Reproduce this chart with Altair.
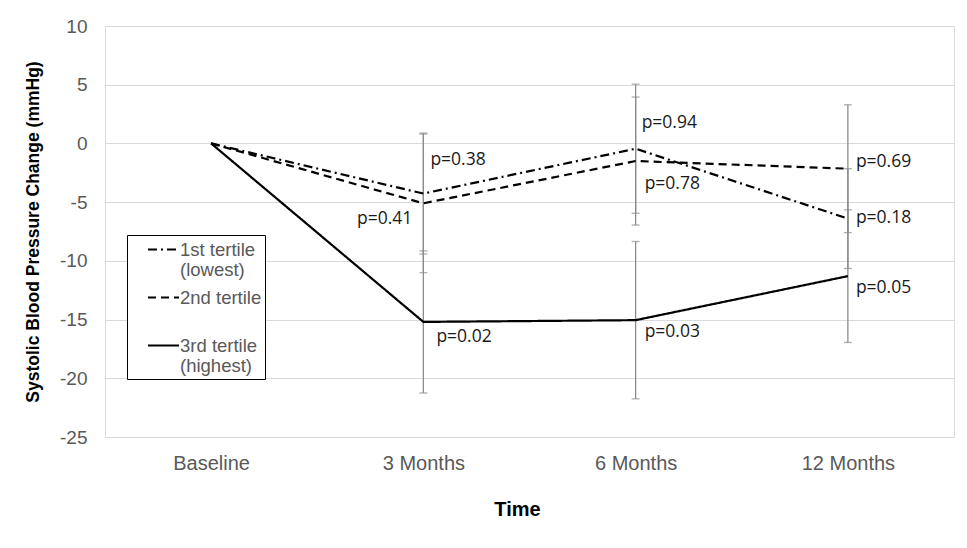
import altair as alt
import pandas as pd

# ---- data ----
times = ["Baseline", "3 Months", "6 Months", "12 Months"]
series = ["1st tertile (lowest)", "2nd tertile", "3rd tertile (highest)"]

t1_mean = [0.0, -4.27, -0.45, -6.4]
t2_mean = [0.0, -5.1, -1.5, -2.15]
t3_mean = [0.0, -15.2, -15.05, -11.3]

t1_err = [None, 5.15, 5.5, 4.25]
t2_err = [None, 5.9, 5.45, 5.44]
t3_err = [None, 6.05, 6.7, 5.65]

t1_p = [None, "p=0.38", "p=0.94", "p=0.18"]
t2_p = [None, "p=0.41", "p=0.78", "p=0.69"]
t3_p = [None, "p=0.02", "p=0.03", "p=0.05"]

# where each p-value annotation sits (data units on the y axis)
t1_py = [None, -1.42, 1.77, -6.33]
t2_py = [None, -6.47, -3.49, -1.56]
t3_py = [None, -16.45, -16.05, -12.3]

# horizontal nudges for annotations (pixels); negative = right-aligned
t1_pdx = [None, 7, 6, 8]
t2_pdx = [None, -11, 9, 8]
t3_pdx = [None, 13, 9, 8]

means = [t1_mean, t2_mean, t3_mean]
errs = [t1_err, t2_err, t3_err]
pvals = [t1_p, t2_p, t3_p]
pys = [t1_py, t2_py, t3_py]
pdxs = [t1_pdx, t2_pdx, t3_pdx]

rows, erows, prows = [], [], []
for s, m, e, p, py, pdx in zip(series, means, errs, pvals, pys, pdxs):
    for i, t in enumerate(times):
        rows.append({"time": t, "series": s, "value": m[i]})
        if e[i] is not None:
            erows.append({"time": t, "series": s, "lo": m[i] - e[i], "hi": m[i] + e[i]})
        if p[i] is not None:
            prows.append({"time": t, "series": s, "label": p[i], "ly": py[i], "dx": pdx[i]})

df = pd.DataFrame(rows)
edf = pd.DataFrame(erows)
pdf = pd.DataFrame(prows)

xscale = alt.Scale(type="point", domain=times, padding=0.5)
yscale = alt.Scale(domain=[-25, 10], nice=False)

xaxis = alt.Axis(
    title="Time", labelAngle=0, ticks=False, domain=False, grid=False,
    labelFont="Liberation Sans", labelFontSize=20, labelColor="#595959", labelPadding=16,
    titleFont="Liberation Sans", titleFontSize=20, titleFontWeight="bold", titleColor="#000000",
    titleX=412, titleY=78, titleBaseline="alphabetic", titleAnchor="middle",
)
yaxis = alt.Axis(
    title="Systolic Blood Pressure Change (mmHg)", values=[10, 5, 0, -5, -10, -15, -20, -25],
    labelExpr="datum.value + ''", ticks=False, domain=False, grid=True,
    gridColor="#d9d9d9", gridWidth=1.2,
    labelFont="Liberation Sans", labelFontSize=19, labelColor="#595959", labelPadding=18,
    titleFont="Liberation Sans", titleFontSize=17.5, titleFontWeight="bold", titleColor="#000000",
    titleX=-67, titleY=205.5, titleAngle=-90, titleBaseline="alphabetic", titleAnchor="middle",
)

errbars = alt.Chart(edf).mark_rule(color="#8c8c8c", strokeWidth=1.3).encode(
    x=alt.X("time:N", scale=xscale, axis=xaxis, sort=times),
    y=alt.Y("lo:Q", scale=yscale, axis=yaxis),
    y2="hi:Q",
)
cap_lo = alt.Chart(edf).mark_tick(color="#8c8c8c", thickness=1.3, size=8).encode(
    x=alt.X("time:N", scale=xscale, sort=times), y=alt.Y("lo:Q", scale=yscale)
)
cap_hi = alt.Chart(edf).mark_tick(color="#8c8c8c", thickness=1.3, size=8).encode(
    x=alt.X("time:N", scale=xscale, sort=times), y=alt.Y("hi:Q", scale=yscale)
)

label_expr = (
    "datum.label == '1st tertile (lowest)' ? ['1st tertile', '(lowest)'] : "
    "datum.label == '2nd tertile' ? ['2nd tertile', ' '] : ['3rd tertile', '(highest)']"
)

lines = alt.Chart(df).mark_line(color="#000000", strokeWidth=2.2).encode(
    x=alt.X("time:N", scale=xscale, sort=times),
    y=alt.Y("value:Q", scale=yscale),
    detail="series:N",
    strokeDash=alt.StrokeDash(
        "series:N",
        scale=alt.Scale(domain=series, range=[[9, 4, 2, 4], [8, 5], [1, 0]]),
        legend=alt.Legend(
            title=None, orient="none", legendX=22, legendY=209,
            symbolType="M-1.55,0H1.55", symbolSize=400, symbolStrokeWidth=2.2,
            symbolStrokeColor="#000000", symbolFillColor="transparent", symbolOffset=22,
            labelExpr=label_expr, labelFont="Liberation Sans", labelFontSize=18.5,
            labelColor="#595959", labelOffset=5, labelBaseline="middle",
            padding=3, rowPadding=6, strokeColor="#000000", fillColor="#ffffff",
        ),
    ),
)

texts = []
for dx in sorted(pdf["dx"].unique()):
    align = "right" if dx < 0 else "left"
    texts.append(
        alt.Chart(pdf[pdf["dx"] == dx]).mark_text(
            align=align, baseline="middle", dx=int(dx), font="Open Sans", fontSize=17.5,
            color="#1a1a1a",
        ).encode(
            x=alt.X("time:N", scale=xscale, sort=times),
            y=alt.Y("ly:Q", scale=yscale),
            text="label:N",
        )
    )

chart = alt.layer(errbars, cap_lo, cap_hi, lines, *texts).properties(
    width=849, height=411,
    autosize=alt.AutoSizeParams(type="none"),
    padding={"left": 97, "top": 18, "right": 5, "bottom": 95},
).configure_view(stroke=None).configure(background="#ffffff")

chart.save("out.html", embed_options={"renderer": "svg", "actions": False})
